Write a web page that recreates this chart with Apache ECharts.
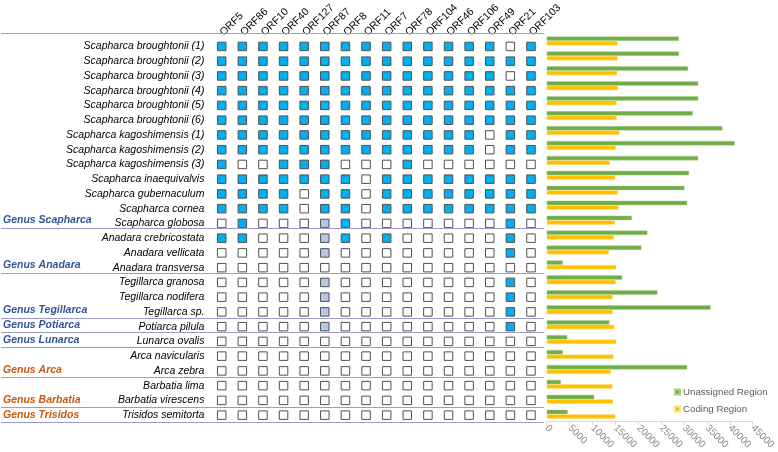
<!DOCTYPE html>
<html><head><meta charset="utf-8">
<script src="https://cdn.jsdelivr.net/npm/echarts@6/dist/echarts.min.js"></script>
<style>html,body{margin:0;padding:0;background:#fff}#c{width:778px;height:452px}</style>
</head><body><div id="c"></div>
<script>
const orfs = ['ORF5','ORF86','ORF10','ORF40','ORF127','ORF87','ORF8','ORF11','ORF7','ORF78','ORF104','ORF46','ORF106','ORF49','ORF21','ORF103'];
const species = ['Scapharca broughtonii (1)','Scapharca broughtonii (2)','Scapharca broughtonii (3)','Scapharca broughtonii (4)','Scapharca broughtonii (5)','Scapharca broughtonii (6)','Scapharca kagoshimensis (1)','Scapharca kagoshimensis (2)','Scapharca kagoshimensis (3)','Scapharca inaequivalvis','Scapharca gubernaculum','Scapharca cornea','Scapharca globosa','Anadara crebricostata','Anadara vellicata','Anadara transversa','Tegillarca granosa','Tegillarca nodifera','Tegillarca sp.','Potiarca pilula','Lunarca ovalis','Arca navicularis','Arca zebra','Barbatia lima','Barbatia virescens','Trisidos semitorta'];
// 1 = present, 0 = absent, 2 = partial
const presence = [
'1111111111111101','1111111111111111','1111111111111101','1111111111111111','1111111111111111','1111111111111111',
'1111111111111011','1111111111111011','1001110001000000','1111111011111111','1111011011111111','1111011011111111',
'0100021000000010','1100021010000010','0000020000000010','0000000000000000','0000020000000010','0000020000000010',
'0000020000000010','0000020000000010','0000000000000000','0000000000000000','0000000000000000','0000000000000000',
'0000000000000000','0000000000000000'];
const unassigned = [28900,28900,30900,33100,33100,31900,38400,41100,33100,31100,30100,30700,18600,22000,20700,3500,16500,24200,35800,13700,4500,3500,30700,3100,10400,4600];
const coding = [15500,15500,15400,15600,15300,15300,15900,15100,13800,15000,15600,15700,14900,14700,13600,15200,15100,14400,14400,14800,15200,14600,14000,14400,14500,15000];
const genusNames = ['Genus Scapharca','Genus Anadara','Genus Tegillarca','Genus Potiarca','Genus Lunarca','Genus Arca','Genus Barbatia','Genus Trisidos'];
const genusSizes = [13,3,3,1,1,2,2,1];
const genusClade = ['a','a','a','a','a','b','b','b'];
const xTicks = [0,5000,10000,15000,20000,25000,30000,35000,40000,45000];

const FONT = 'Liberation Sans, Arial, sans-serif';
const cellFill = {'1':'#00b0f0','0':'#ffffff','2':'#b4c7e7'};
const matrix = [];
presence.forEach((row,i)=>{ row.split('').forEach((s,j)=>{ matrix.push({value:[j,i], itemStyle:{color:cellFill[s]}}); }); });
const boundaries = [0]; let acc=0; genusSizes.forEach(n=>{acc+=n; boundaries.push(acc);});
const genusAt = {}; acc=0; genusSizes.forEach((n,k)=>{acc+=n; genusAt[acc-1]=k;});

const gTop=33.5, gBottom=29.5;
const chart = echarts.init(document.getElementById('c'));
chart.setOption({
  animation:false,
  textStyle:{fontFamily:FONT},
  legend:{
    data:['Unassigned Region','Coding Region'], orient:'vertical', left:669, top:382,
    icon:'rect', itemWidth:5, itemHeight:5, itemGap:7,
    textStyle:{fontSize:9.7, color:'#595959', fontFamily:FONT, padding:[0,0,0,-2]}
  },
  grid:[
    {left:211.4, right:236.7, top:gTop, bottom:gBottom},
    {left:546.7, right:21.3, top:gTop, bottom:gBottom},
    {left:0, right:234, top:gTop, bottom:gBottom}
  ],
  xAxis:[
    {type:'category', gridIndex:0, data:orfs, position:'top', axisLine:{show:false}, axisTick:{show:false},
     axisLabel:{rotate:-45, interval:0, margin:5, fontSize:10.5, color:'#000', fontFamily:FONT}},
    {type:'value', gridIndex:1, min:xTicks[0], max:xTicks[xTicks.length-1], interval:xTicks[1]-xTicks[0],
     axisLine:{show:true, lineStyle:{color:'#d9d9d9'}}, axisTick:{show:true, length:3, lineStyle:{color:'#d9d9d9'}},
     splitLine:{show:false}, axisLabel:{rotate:-45, margin:5, fontSize:10, color:'#8c8c8c', fontFamily:FONT, formatter:v=>String(v)}},
    {type:'value', gridIndex:2, min:0, max:1, show:false}
  ],
  yAxis:[
    {type:'category', gridIndex:0, data:species, inverse:true, axisLine:{show:false}, axisTick:{show:false},
     axisLabel:{interval:0, margin:7, fontSize:10.5, fontStyle:'italic', color:'#000', fontFamily:FONT}},
    {type:'category', gridIndex:1, data:species, inverse:true, show:false},
    {type:'category', gridIndex:2, data:species, inverse:true, axisLine:{show:false}, axisTick:{show:false},
     axisLabel:{inside:true, interval:0, margin:2,
       formatter:(v,i)=> genusAt[i]!==undefined ? '{'+genusClade[genusAt[i]]+'|'+genusNames[genusAt[i]]+'}' : '',
       rich:{a:{color:'#2f5597', fontWeight:'bold', fontStyle:'italic', fontSize:10.5, fontFamily:FONT},
             b:{color:'#c55a11', fontWeight:'bold', fontStyle:'italic', fontSize:10.5, fontFamily:FONT}}}},
    {type:'value', gridIndex:2, min:0, max:species.length, inverse:true, show:false}
  ],
  series:[
    {type:'scatter', xAxisIndex:2, yAxisIndex:3, data:[[0,0]], symbolSize:0, silent:true,
     markLine:{silent:true, symbol:['none','none'], label:{show:false},
       lineStyle:{color:'#9b9bd0', type:'solid', width:1},
       data:boundaries.map(b=>({yAxis:b}))}},
    {type:'scatter', xAxisIndex:0, yAxisIndex:0, data:matrix, symbol:'rect', symbolSize:8.5,
     itemStyle:{borderColor:'#505050', borderWidth:1, opacity:1}},
    {name:'Unassigned Region', type:'bar', xAxisIndex:1, yAxisIndex:1, data:unassigned, barWidth:4.5, barGap:'0%',
     itemStyle:{color:'#70ad47', borderColor:'#a9d18e', borderWidth:0.5}},
    {name:'Coding Region', type:'bar', xAxisIndex:1, yAxisIndex:1, data:coding, barWidth:4.5, barGap:'0%',
     itemStyle:{color:'#ffc000', borderColor:'#ffe08a', borderWidth:0.5}}
  ]
});
</script></body></html>
